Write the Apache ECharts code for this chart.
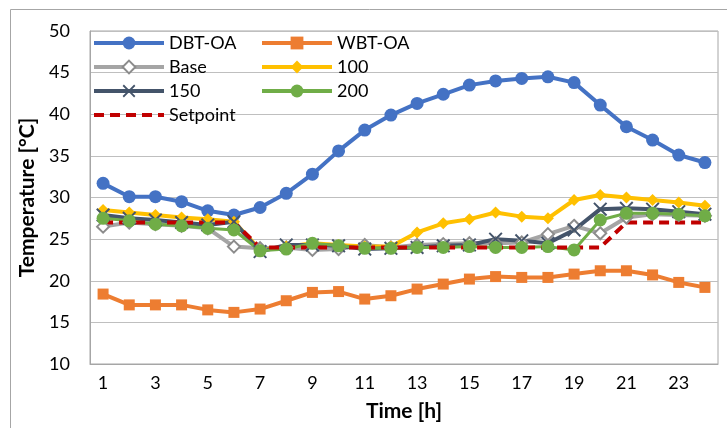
<!DOCTYPE html>
<html>
<head>
<meta charset="utf-8">
<script src="https://cdn.jsdelivr.net/npm/echarts@6/dist/echarts.min.js"></script>
<style>
  html, body { margin: 0; padding: 0; background: #fff; }
  #chart { width: 727px; height: 428px; }
</style>
</head>
<body>
<div id="chart"></div>
<script>
// Hourly temperatures over one day
const hours = ['1','2','3','4','5','6','7','8','9','10','11','12','13','14','15','16','17','18','19','20','21','22','23','24'];

const dbtOA    = [31.7, 30.1, 30.1, 29.5, 28.4, 27.9, 28.8, 30.5, 32.8, 35.6, 38.1, 39.9, 41.3, 42.4, 43.5, 44.0, 44.3, 44.5, 43.8, 41.1, 38.5, 36.9, 35.1, 34.2];
const wbtOA    = [18.4, 17.1, 17.1, 17.1, 16.5, 16.2, 16.6, 17.6, 18.6, 18.7, 17.8, 18.2, 19.0, 19.6, 20.2, 20.5, 20.4, 20.4, 20.8, 21.2, 21.2, 20.7, 19.8, 19.2];
const base     = [26.5, 27.0, 26.8, 26.6, 26.3, 24.1, 23.9, 24.0, 23.7, 23.8, 24.3, 24.0, 24.3, 24.4, 24.5, 24.5, 24.6, 25.6, 26.6, 25.7, 27.6, 28.0, 27.9, 27.8];
const s100     = [28.5, 28.2, 27.9, 27.6, 27.4, 27.1, 23.7, 24.1, 24.5, 24.3, 24.1, 24.1, 25.8, 26.9, 27.4, 28.2, 27.7, 27.5, 29.7, 30.3, 30.0, 29.7, 29.4, 29.0];
const s150     = [27.9, 27.5, 27.3, 27.0, 26.7, 27.1, 23.5, 24.3, 24.3, 24.2, 23.8, 23.9, 24.0, 24.2, 24.3, 25.0, 24.8, 24.5, 26.1, 28.6, 28.7, 28.6, 28.3, 28.0];
const s200     = [27.5, 27.2, 26.8, 26.6, 26.3, 26.1, 23.6, 23.8, 24.5, 24.2, 23.9, 23.9, 24.0, 24.0, 24.1, 24.0, 24.0, 24.1, 23.7, 27.3, 28.1, 28.1, 28.0, 27.8];
const setpoint = [27, 27, 27, 27, 27, 27, 24, 24, 24, 24, 24, 24, 24, 24, 24, 24, 24, 24, 24, 24, 27, 27, 27, 27];

const yTicks = { min: 10, max: 50, step: 5 };

const FONT = 'Lato, "Liberation Sans", sans-serif';
const crossSymbol = 'path://M0,1L1,0L5,4L9,0L10,1L6,5L10,9L9,10L5,6L1,10L0,9L4,5Z';

function lineSeries(name, data, color, width, symbol, size, extra) {
  return Object.assign({
    name: name,
    type: 'line',
    data: data,
    symbol: symbol,
    symbolSize: size,
    lineStyle: { color: color, width: width },
    itemStyle: { color: color },
    emphasis: { disabled: true },
    animation: false
  }, extra || {});
}

const chart = echarts.init(document.getElementById('chart'), null, { renderer: 'canvas' });

chart.setOption({
  backgroundColor: '#ffffff',
  textStyle: { fontFamily: FONT },
  graphic: [{
    type: 'rect',
    shape: { x: 10.5, y: 9.5, width: 900, height: 600 },
    style: { fill: 'none', stroke: '#a6a6a6', lineWidth: 1 },
    silent: true
  }],
  grid: { left: 90, right: 9, top: 31, bottom: 64, show: true, borderColor: '#a6a6a6', borderWidth: 1 },
  legend: {
    left: 92,
    top: 34,
    padding: 0,
    width: 340,
    itemWidth: 70,
    itemHeight: 16,
    itemGap: 6,
    lineStyle: { width: 4 },
    textStyle: { fontFamily: FONT, fontSize: 18, color: '#000', width: 85, lineHeight: 17 },
    data: ['DBT-OA', 'WBT-OA', 'Base', '100', '150', '200',
      { name: 'Setpoint', itemStyle: { opacity: 0 } }]
  },
  xAxis: {
    type: 'category',
    data: hours,
    name: 'Time [h]',
    nameLocation: 'middle',
    nameGap: 37,
    nameTextStyle: { fontFamily: FONT, fontSize: 21, fontWeight: 'bold', color: '#000' },
    axisLine: { show: true, lineStyle: { color: '#a6a6a6' } },
    axisTick: { show: false },
    axisLabel: { interval: 1, margin: 10, fontFamily: FONT, fontSize: 18, color: '#000' }
  },
  yAxis: {
    type: 'value',
    min: yTicks.min,
    max: yTicks.max,
    interval: yTicks.step,
    name: 'Temperature [°C]',
    nameLocation: 'middle',
    nameGap: 48,
    nameTextStyle: { fontFamily: FONT, fontSize: 21, fontWeight: 'bold', color: '#000' },
    axisLine: { show: true, lineStyle: { color: '#a6a6a6' } },
    axisTick: { show: false },
    axisLabel: { margin: 20, fontFamily: FONT, fontSize: 18, color: '#000' },
    splitLine: { lineStyle: { color: '#bfbfbf', width: 1 } }
  },
  series: [
    lineSeries('DBT-OA', dbtOA, '#4472C4', 4, 'circle', 13),
    lineSeries('WBT-OA', wbtOA, '#ED7D31', 4, 'rect', 11),
    lineSeries('Base', base, '#A5A5A5', 4, 'diamond', 12, {
      itemStyle: { color: '#ffffff', borderColor: '#8c8c8c', borderWidth: 2 }
    }),
    lineSeries('100', s100, '#FFC000', 4, 'diamond', 12),
    lineSeries('150', s150, '#44546A', 4, crossSymbol, 14),
    lineSeries('200', s200, '#70AD47', 3, 'circle', 13),
    lineSeries('Setpoint', setpoint, '#C00000', 4, 'none', 0, {
      showSymbol: false,
      lineStyle: { color: '#C00000', width: 4, type: [10, 6] }
    })
  ]
});
</script>
</body>
</html>
